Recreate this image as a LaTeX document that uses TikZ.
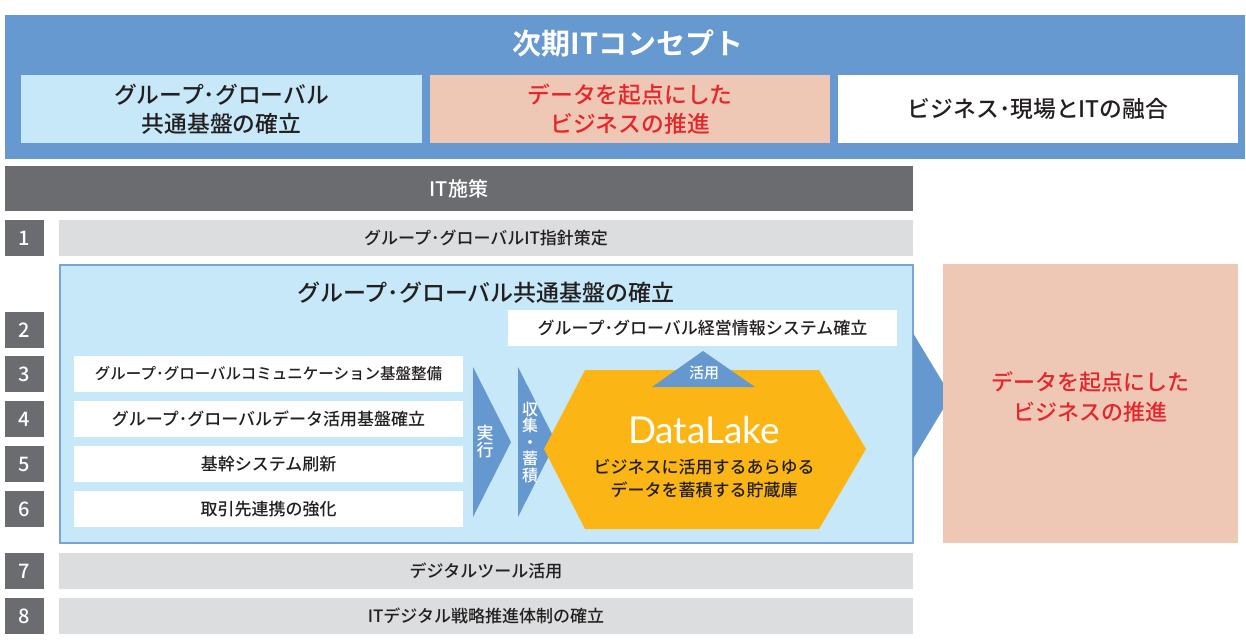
\documentclass[tikz,border=0pt]{standalone}
\usepackage{fontspec}
\setmainfont{Noto Sans CJK JP}[UprightFont=* Medium, BoldFont=* Bold]
\newfontfamily\dlfont{Lato}
\definecolor{topblue}{HTML}{6699D0}
\definecolor{lightblue}{HTML}{C6E8F8}
\definecolor{peach}{HTML}{EFC7B5}
\definecolor{redtxt}{HTML}{E5262C}
\definecolor{darkgray}{HTML}{6B6C70}
\definecolor{lightgray}{HTML}{DCDDDF}
\definecolor{orange}{HTML}{FBB616}
\definecolor{border}{HTML}{79A5D6}
\definecolor{arrowblue}{HTML}{6598CF}
\definecolor{txt}{HTML}{231F20}
\begin{document}
\begin{tikzpicture}[x=1pt,y=-1pt,
  box/.style={anchor=north west, inner sep=0pt, outer sep=0pt, align=center},
  numbox/.style={box, fill=darkgray, minimum width=39, minimum height=36, text=white, font=\fontsize{20}{22}\selectfont},
  rowbar/.style={box, fill=lightgray, minimum width=854, minimum height=36, text=txt, font=\fontsize{17}{20}\selectfont},
  wbox/.style={box, fill=white, minimum width=389, minimum height=36, text=txt, font=\fontsize{17}{20}\selectfont},
  subt/.style={font=\fontsize{22.8}{29}\selectfont, align=center, inner sep=0pt},
  vtext/.style={text=white, font=\fontsize{17}{17}\selectfont, align=center, inner sep=0pt}
]
\useasboundingbox (0,0) rectangle (1246,641);
\fill[white] (0,0) rectangle (1246,641);

% top concept block
\node[box, fill=topblue, minimum width=1240, minimum height=144] (top) at (5,15) {};
\node[text=white, font=\bfseries\fontsize{29}{31}\selectfont, inner sep=0pt] (title) at (628,43) {次期ITコンセプト};
\node[box, fill=lightblue, minimum width=401, minimum height=68] (c1) at (21,75) {};
\node[subt, text=txt] (c1t) at (c1.center) {グループ･グローバル\\共通基盤の確立};
\node[box, fill=peach, minimum width=400, minimum height=68] (c2) at (430,75) {};
\node[subt, text=redtxt] (c2t) at (c2.center) {データを起点にした\\ビジネスの推進};
\node[box, fill=white, minimum width=400, minimum height=68] (c3) at (838,75) {};
\node[subt, text=txt] (c3t) at (c3.center) {ビジネス･現場とITの融合};

% IT measures header
\node[box, fill=darkgray, minimum width=908, minimum height=45, text=white, font=\fontsize{20}{22}\selectfont] (hdr) at (5,166) {IT施策};

% row 1
\node[numbox] (n1) at (5,220) {1};
\node[rowbar] (r1) at (59,220) {グループ･グローバルIT指針策定};

% big light blue block
\node[box, fill=lightblue, draw=border, line width=1.5pt, minimum width=853, minimum height=278] (big) at (60,265) {};
\node[font=\fontsize{23}{25}\selectfont, text=txt, inner sep=0pt] (bigt) at (486,293) {グループ･グローバル共通基盤の確立};

% numbers 2-6
\node[numbox] (n2) at (5,312) {2};
\node[numbox] (n3) at (5,356) {3};
\node[numbox] (n4) at (5,401) {4};
\node[numbox] (n5) at (5,446) {5};
\node[numbox] (n6) at (5,491) {6};

\node[wbox] (w2) at (508,310) {グループ･グローバル経営情報システム確立};
\node[wbox, font=\fontsize{15.5}{18}\selectfont] (w3) at (74,356) {グループ･グローバルコミュニケーション基盤整備};
\node[wbox] (w4) at (74,401) {グループ･グローバルデータ活用基盤確立};
\node[wbox] (w5) at (74,446) {基幹システム刷新};
\node[wbox] (w6) at (74,491) {取引先連携の強化};

% execution arrows
\fill[arrowblue] (473,367) -- (511,442) -- (473,517) -- cycle;
\node[vtext] (exec) at (485,442) {実\\行};
\fill[arrowblue] (518,367) -- (556,442) -- (518,517) -- cycle;

% DataLake hexagon
\fill[orange] (585,370) -- (819,370) -- (866,449) -- (819,529) -- (585,529) -- (544,449) -- cycle;
\node[vtext, font=\fontsize{16}{16.5}\selectfont] (coll) at (530,442) {収\\集\\・\\蓄\\積};
\node[text=white, font=\dlfont\fontsize{37}{40}\selectfont, inner sep=0pt] (dl) at (704,430) {DataLake};
\node[text=txt, font=\fontsize{17}{23}\selectfont, align=center, inner sep=0pt] (dld) at (704,479) {ビジネスに活用するあらゆる\\データを蓄積する貯蔵庫};

% use arrow up
\fill[arrowblue] (703,351) -- (755,387) -- (652,387) -- cycle;
\node[text=white, font=\fontsize{15}{16}\selectfont, inner sep=0pt] (use) at (704,373) {活用};

% big arrow to result
\fill[arrowblue] (913,333) -- (951,396) -- (913,459) -- cycle;
\node[box, fill=peach, minimum width=295, minimum height=279] (res) at (943,264) {};
\node[subt, text=redtxt, font=\fontsize{22}{30}\selectfont] (rest) at (1090,397) {データを起点にした\\ビジネスの推進};

% rows 7, 8
\node[numbox] (n7) at (5,553) {7};
\node[rowbar] (r7) at (59,553) {デジタルツール活用};
\node[numbox] (n8) at (5,598) {8};
\node[rowbar] (r8) at (59,598) {ITデジタル戦略推進体制の確立};
\end{tikzpicture}
\end{document}
